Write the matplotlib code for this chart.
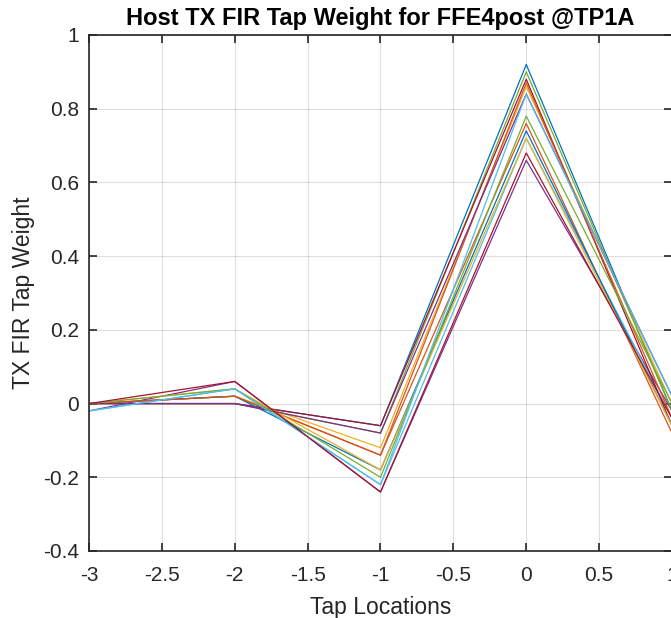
import numpy as np
from matplotlib import pyplot as plt

plt.rcParams['font.family'] = ['Liberation Sans', 'DejaVu Sans']

# tap positions and weights (pre3, pre2, pre1, main, post1)
taps = [-3, -2, -1, 0, 1]
weights = [
    [0.00, 0.00, -0.06, 0.92, -0.02],
    [0.00, 0.02, -0.14, 0.76, -0.08],
    [0.00, 0.02, -0.12, 0.86, 0.00],
    [-0.02, 0.06, -0.24, 0.66, -0.02],
    [0.00, 0.00, -0.08, 0.90, -0.02],
    [-0.02, 0.04, -0.22, 0.72, -0.04],
    [0.00, 0.00, -0.06, 0.88, -0.06],
    [0.00, 0.02, -0.18, 0.74, -0.06],
    [0.00, 0.02, -0.14, 0.87, -0.04],
    [0.00, 0.04, -0.18, 0.72, -0.06],
    [0.00, 0.00, -0.08, 0.84, 0.02],
    [0.00, 0.04, -0.20, 0.78, 0.00],
    [-0.02, 0.04, -0.22, 0.84, 0.02],
    [0.00, 0.06, -0.24, 0.68, -0.04],
]
colors = ['#0072BD', '#D95319', '#EDB120', '#7E2F8E', '#77AC30', '#4DBEEE', '#A2142F']

fig = plt.figure(figsize=(6.71, 6.18), dpi=100)
ax = fig.add_axes([89 / 671, 67 / 618, 583 / 671, 516 / 618])

for i, w in enumerate(weights):
    ax.plot(taps, w, color=colors[i % len(colors)], lw=0.9)

ax.set_xlim(-3, 1)
ax.set_ylim(-0.4, 1)
ax.set_xticks(np.arange(-3, 1.01, 0.5))
ax.set_xticklabels(['-3', '-2.5', '-2', '-1.5', '-1', '-0.5', '0', '0.5', '1'])
ax.set_yticks(np.arange(-0.4, 1.01, 0.2))
ax.set_yticklabels(['-0.4', '-0.2', '0', '0.2', '0.4', '0.6', '0.8', '1'])
ax.grid(True, color='#262626', alpha=0.15, lw=0.8)
ax.tick_params(direction='in', length=6, width=1.2, top=True, right=True,
               labelsize=15, colors='#262626')
ax.tick_params(axis='x', pad=11)
ax.tick_params(axis='y', pad=7)
for s in ax.spines.values():
    s.set_color('#262626')
    s.set_linewidth(1.2)

ax.set_xlabel('Tap Locations', fontsize=16.5, color='#262626', labelpad=8)
ax.set_ylabel('TX FIR Tap Weight', fontsize=16.5, color='#262626', labelpad=6)
ax.set_title('Host TX FIR Tap Weight for FFE4post @TP1A', fontsize=17,
             fontweight='bold', pad=7)

fig.savefig('out.png', dpi=100)
